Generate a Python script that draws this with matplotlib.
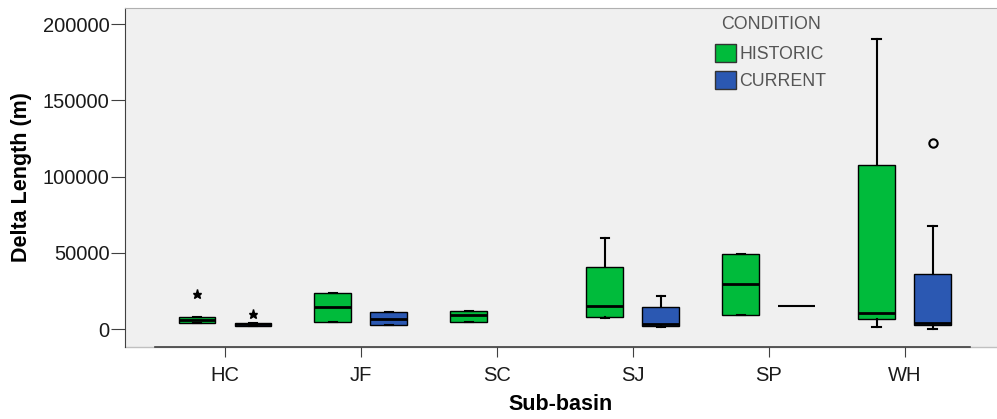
import matplotlib.pyplot as plt
from matplotlib.patches import Patch

plt.rcParams['font.family'] = ['Liberation Sans', 'DejaVu Sans']

basins = ['HC', 'JF', 'SC', 'SJ', 'SP', 'WH']

# historic condition box statistics (m)
hist_q1 = [3900, 4600, 4600, 7900, 9200, 6600]
hist_med = [6000, 14400, 9200, 15100, 29500, 10500]
hist_q3 = [7900, 23600, 11800, 40600, 49200, 107500]
hist_lo = [3900, 4600, 4600, 7200, 9200, 1300]
hist_hi = [7900, 23600, 11800, 59700, 49200, 190200]
hist_out = [[22950], [], [], [], [], []]

# current condition box statistics (m), no data for SC
cur_basins = ['HC', 'JF', 'SJ', 'SP', 'WH']
cur_q1 = [2000, 2600, 2000, 15100, 2600]
cur_med = [3000, 6600, 3300, 15100, 3900]
cur_q3 = [3900, 11200, 14400, 15100, 36100]
cur_lo = [2000, 2600, 1300, 15100, 0]
cur_hi = [3900, 11200, 21600, 15100, 67500]
cur_out = [[9840], [], [], [], [122000]]
cur_out_marker = ['*', None, None, None, 'o']

green = '#00bb3b'
blue = '#2b58b2'


def stats(q1, med, q3, lo, hi, out):
    return [dict(q1=a, med=b, q3=c, whislo=d, whishi=e, fliers=f)
            for a, b, c, d, e, f in zip(q1, med, q3, lo, hi, out)]


fig = plt.figure(figsize=(9.97, 4.19), dpi=100)
ax = fig.add_axes([125 / 997, 1 - 347 / 419, 872 / 997, 339 / 419])
ax.set_facecolor('#f0f0f0')

off = 0.206
w = 0.27
common = dict(widths=w, patch_artist=True, capwidths=0.06,
              medianprops=dict(color='black', linewidth=2),
              whiskerprops=dict(color='black', linewidth=1.5),
              capprops=dict(color='black', linewidth=1.5),
              boxprops=dict(edgecolor='black', linewidth=1),
              flierprops=dict(marker='*', markersize=6.5,
                              markerfacecolor='black', markeredgecolor='black'))

hpos = [i - off for i in range(len(basins))]
r1 = ax.bxp(stats(hist_q1, hist_med, hist_q3, hist_lo, hist_hi, hist_out),
            positions=hpos, **common)
for b in r1['boxes']:
    b.set_facecolor(green)

cpos = [basins.index(c) + off for c in cur_basins]
r2 = ax.bxp(stats(cur_q1, cur_med, cur_q3, cur_lo, cur_hi, cur_out),
            positions=cpos, **common)
for b in r2['boxes']:
    b.set_facecolor(blue)
for fl, m in zip(r2['fliers'], cur_out_marker):
    if m == 'o':
        fl.set_marker('o')
        fl.set_markerfacecolor('none')
        fl.set_markersize(6)
        fl.set_markeredgewidth(1.5)

# a single-value group collapses to a thin line
for i in range(len(cur_basins)):
    if cur_q1[i] == cur_q3[i]:
        r2['medians'][i].set_linewidth(1.5)
        r2['boxes'][i].set_linewidth(0)
        r2['caps'][2 * i].set_visible(False)
        r2['caps'][2 * i + 1].set_visible(False)

ax.set_xlim(-0.735, 5.68)
ax.set_ylim(-11800, 210500)
ax.set_xticks(range(len(basins)))
ax.set_xticklabels(basins)
ax.set_yticks([0, 50000, 100000, 150000, 200000])

ax.spines['right'].set_visible(False)
ax.spines['top'].set_color('#b0b0b0')
ax.spines['left'].set_color('#404040')
ax.spines['bottom'].set_color('#404040')
ax.spines['bottom'].set_linewidth(1.2)
ax.spines['bottom'].set_bounds(-0.515, 5.485)
ax.axhline(-11800, color='#c0c0c0', linewidth=1, clip_on=False, zorder=0)

ax.tick_params(axis='y', length=10, color='#404040', labelsize=14.5,
               labelcolor='#1a1a1a', pad=1)
ax.tick_params(axis='x', length=7, color='#404040', labelsize=14.5,
               labelcolor='#1a1a1a', pad=7)

ax.set_ylabel('Delta Length (m)', fontsize=15.5, fontweight='bold', labelpad=8)
ax.set_xlabel('Sub-basin', fontsize=15.5, fontweight='bold', labelpad=6)

handles = [Patch(facecolor=green, edgecolor='#333333', label='HISTORIC'),
           Patch(facecolor=blue, edgecolor='#333333', label='CURRENT')]
leg = ax.legend(handles=handles, title='CONDITION', frameon=False,
                loc='upper left', bbox_to_anchor=(715 / 997, 1 - 16 / 419),
                bbox_transform=fig.transFigure, borderaxespad=0, borderpad=0,
                fontsize=12.8, title_fontsize=12.8, handlelength=1.18,
                handleheight=1.18, handletextpad=0.2, labelspacing=0.45,
                labelcolor='#555555')
leg.get_title().set_color('#555555')
leg._legend_box.sep = 8

fig.savefig('out.png', dpi=100)
